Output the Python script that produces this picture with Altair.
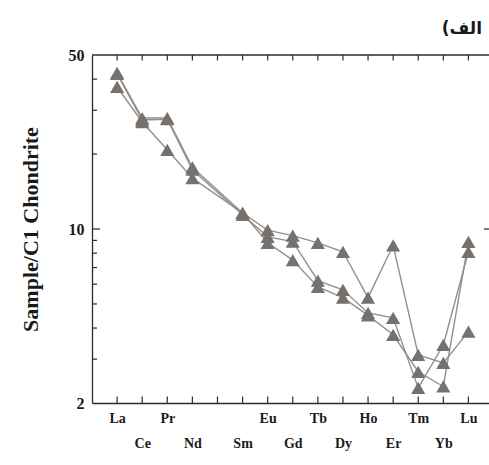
import json
import altair as alt
import pandas as pd

elements = ["La", "Ce", "Pr", "Nd", "Pm", "Sm", "Eu", "Gd", "Tb", "Dy", "Ho", "Er", "Tm", "Yb", "Lu"]
series_a = [42.4, 27.9, 27.9, 17.7, None, 11.6, 9.9, 9.4, 8.8, 8.1, 5.3, 8.6, 3.12, 2.9, 3.87]
series_b = [37.2, 26.9, 20.8, 16.0, None, 11.6, 8.8, 7.5, 5.85, 5.3, 4.5, 3.76, 2.67, 2.33, 8.87]
series_c = [42.0, 27.4, 27.6, 17.3, None, 11.4, 9.3, 8.9, 6.2, 5.7, 4.6, 4.4, 2.30, 3.42, 8.1]
y_label_values = [2, 10, 50]
y_minor_values = [3, 4, 5, 6, 7, 8, 9, 20, 30, 40]

rows = []
for name, vals in [("A", series_a), ("B", series_b), ("C", series_c)]:
    for i, (el, v) in enumerate(zip(elements, vals)):
        if v is not None:
            rows.append({"series": name, "idx": i + 1, "element": el, "value": v})
df = pd.DataFrame(rows)

XMAX = 15.82
xs = alt.Scale(domain=[0, XMAX], nice=False, zero=False)
ys = alt.Scale(type="log", domain=[2, 50], nice=False)
AX = "#2b2b2b"
SERIF = "Liberation Serif, Times New Roman, serif"

names_js = json.dumps(elements)
label_expr = (f"datum.value % 2 == 1 ? {names_js}[datum.value-1] : ['', {names_js}[datum.value-1]]")

x_axis = alt.Axis(values=[i for i in range(1, 16) if i != 5], labelExpr=label_expr, ticks=False,
                  grid=False, labelPadding=8, labelLineHeight=25, labelBaseline="top",
                  labelFont=SERIF, labelFontSize=14, labelFontWeight="bold", labelColor="#1a1a1a",
                  domainColor=AX, domainWidth=1.3, title=None, labelFlush=False,
                  labelOverlap=False, labelBound=False)
y_axis = alt.Axis(values=y_label_values, ticks=False, grid=False, labelPadding=8,
                  labelFont=SERIF, labelFontSize=16, labelFontWeight="bold", labelColor="#1a1a1a",
                  domainColor=AX, domainWidth=1.3, title="Sample/C1 Chondrite",
                  titleFont=SERIF, titleFontSize=22, titleFontWeight="bold", titleColor="#1a1a1a",
                  titleX=-62, titleY=174, titleAngle=-90, titleBaseline="middle", titleAlign="center",
                  labelOverlap=False)


def X(field):
    return alt.X(field, scale=xs, axis=x_axis)


def Y(field):
    return alt.Y(field, scale=ys, axis=y_axis)


lines = alt.Chart(df).mark_line(color="#948f8b", strokeWidth=1.4).encode(
    x=X("idx:Q"), y=Y("value:Q"), detail="series:N",
)
points = alt.Chart(df).mark_point(shape="triangle-up", filled=True, color="#77716d", opacity=1, size=200).encode(
    x=X("idx:Q"), y=Y("value:Q"),
)

# frame top line
top_df = pd.DataFrame({"idx": [0.0], "x2": [XMAX], "value": [50.0]})
top_line = alt.Chart(top_df).mark_rule(color=AX, strokeWidth=1.3).encode(
    x=X("idx:Q"), x2="x2:Q", y=Y("value:Q"))

tick_idx = list(range(1, 16))
top_ticks_df = pd.DataFrame({"idx": tick_idx, "value": [50.0] * 15, "y2": [50.0 * 10 ** -0.022] * 15})
bot_ticks_df = pd.DataFrame({"idx": tick_idx, "value": [2.0] * 15, "y2": [2.0 * 10 ** 0.026] * 15})
top_ticks = alt.Chart(top_ticks_df).mark_rule(color=AX, strokeWidth=1.2).encode(
    x=X("idx:Q"), y=Y("value:Q"), y2="y2:Q")
bot_ticks = alt.Chart(bot_ticks_df).mark_rule(color=AX, strokeWidth=1.2).encode(
    x=X("idx:Q"), y=Y("value:Q"), y2="y2:Q")

left_df = pd.DataFrame({"value": y_minor_values + [10], "idx": [0.0] * (len(y_minor_values) + 1),
                        "x2": [0.2] * len(y_minor_values) + [0.32]})
left_ticks = alt.Chart(left_df).mark_rule(color=AX, strokeWidth=1.2).encode(
    x=X("idx:Q"), x2="x2:Q", y=Y("value:Q"))
right_df = pd.DataFrame({"value": [10], "idx": [XMAX - 0.2], "x2": [XMAX]})
right_ticks = alt.Chart(right_df).mark_rule(color=AX, strokeWidth=1.2).encode(
    x=X("idx:Q"), x2="x2:Q", y=Y("value:Q"))

chart = alt.layer(lines, points, top_line, top_ticks, bot_ticks, left_ticks, right_ticks).properties(
    width=397, height=348,
    padding={"left": 92, "top": 55, "right": 0, "bottom": 62},
    autosize=alt.AutoSizeParams(type="none"),
    title=alt.TitleParams("الف)\u200f", anchor="end", font="DejaVu Sans", fontSize=17,
                          fontWeight="bold", color="#1a1a1a", dx=-7, offset=9, frame="group"),
    background="white",
).configure_view(stroke=None)

chart.save("out.html", embed_options={"renderer": "svg", "actions": False})
